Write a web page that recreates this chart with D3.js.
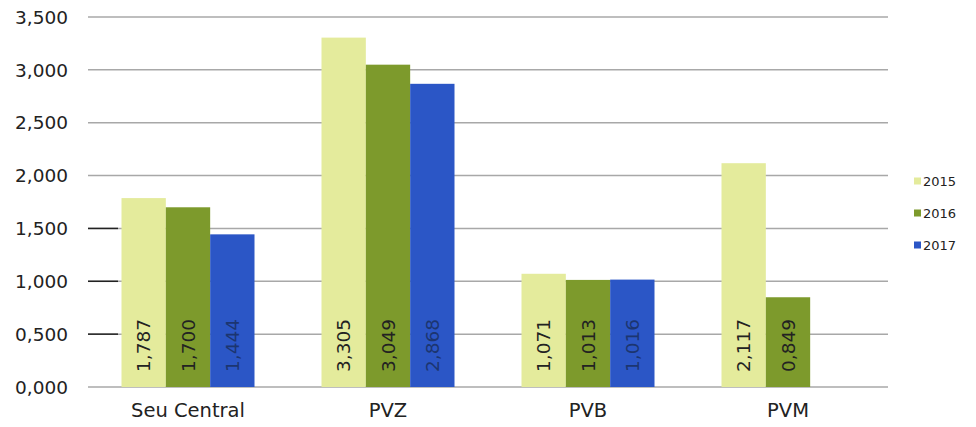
<!DOCTYPE html>
<html>
<head>
<meta charset="utf-8">
<script src="https://cdn.jsdelivr.net/npm/d3@7"></script>
<style>
	body { margin: 0; background: #fff; }
	text { font-family: "DejaVu Sans", Verdana, sans-serif; fill: #222; }
</style>
</head>
<body>
<div id="chart"></div>
<script>
var categories = ["Seu Central", "PVZ", "PVB", "PVM"];
var years = ["2015", "2016", "2017"];
var values2015 = [1.787, 3.305, 1.071, 2.117];
var values2016 = [1.700, 3.049, 1.013, 0.849];
var values2017 = [1.444, 2.868, 1.016, null];
var yTicks = [0, 0.5, 1, 1.5, 2, 2.5, 3, 3.5];
var colors = ["#e4eb9c", "#7d9a2c", "#2b56c6"];
var labelColors = ["#222", "#222", "#1c3570"];

var width = 976, height = 427;
var margin = { top: 17, left: 88, right: 88, bottom: 40 };

var series = [values2015, values2016, values2017];

var svg = d3.select("#chart").append("svg")
		.attr("width", width)
		.attr("height", height);

var x = d3.scaleBand().domain(categories).range([margin.left, width - margin.right]);
var sub = d3.scaleBand().domain(years).range([0, 133]);
var y = d3.scaleLinear().domain([0, 3.5]).range([height - margin.bottom, margin.top]);

var fmt = function(v){ return d3.format(".3f")(v).replace(".", ","); };

// gridlines
svg.append("g")
		.attr("class", "grid")
	.selectAll("line")
		.data(yTicks)
	.enter().append("line")
		.attr("x1", margin.left)
		.attr("x2", width - margin.right)
		.attr("y1", d => y(d))
		.attr("y2", d => y(d))
		.attr("stroke", "#a8a8a8")
		.attr("stroke-width", 1.5);

// short dark ticks at the left
svg.append("g")
	.selectAll("line")
		.data(yTicks.filter(d => d > 0 && d < 2))
	.enter().append("line")
		.attr("x1", margin.left)
		.attr("x2", margin.left + 30)
		.attr("y1", d => y(d))
		.attr("y2", d => y(d))
		.attr("stroke", "#222")
		.attr("stroke-width", 1.5);

svg.append("g")
	.selectAll("text")
		.data(yTicks)
	.enter().append("text")
		.attr("x", 68)
		.attr("y", d => y(d))
		.attr("dy", "0.36em")
		.attr("text-anchor", "end")
		.style("font-size", "18.5px")
		.text(fmt);

// bars
var groups = svg.append("g").selectAll("g")
		.data(categories)
	.enter().append("g")
		.attr("transform", d => "translate(" + (x(d) + (x.bandwidth() - 133) / 2) + ",0)");

groups.each(function(cat, i){
	var g = d3.select(this);
	series.forEach(function(vals, s){
		var v = vals[i];
		if(v == null) return;
		var bx = sub(years[s]);
		g.append("rect")
			.attr("x", bx)
			.attr("width", sub.bandwidth())
			.attr("y", y(v))
			.attr("height", y(0) - y(v))
			.attr("fill", colors[s]);
		g.append("text")
			.attr("transform", "translate(" + (bx + sub.bandwidth() / 2) + "," + (y(0) - 15) + ") rotate(-90)")
			.attr("dy", "0.36em")
			.style("font-size", "18.5px")
			.style("fill", labelColors[s])
			.text(fmt(v));
	});
});

// category labels
svg.append("g")
	.selectAll("text")
		.data(categories)
	.enter().append("text")
		.attr("x", d => x(d) + x.bandwidth() / 2)
		.attr("y", y(0) + 30)
		.attr("text-anchor", "middle")
		.style("font-size", "19.5px")
		.text(d => d);

// legend
var legend = svg.append("g")
		.attr("transform", "translate(914,181)")
	.selectAll("g")
		.data(years)
	.enter().append("g")
		.attr("transform", (d, i) => "translate(0," + (i * 32) + ")");

legend.append("rect")
		.attr("x", 0)
		.attr("y", -3.5)
		.attr("width", 7)
		.attr("height", 7)
		.attr("fill", (d, i) => colors[i]);

legend.append("text")
		.attr("x", 9)
		.attr("dy", "0.36em")
		.style("font-size", "13px")
		.text(d => d);
</script>
</body>
</html>
